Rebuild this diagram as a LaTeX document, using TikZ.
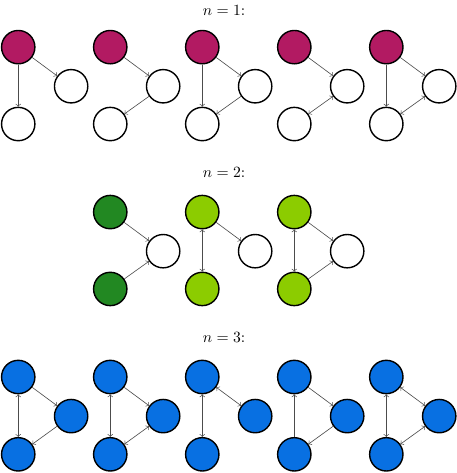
\documentclass[tikz,border=0pt]{standalone}
\usepackage{amsmath}
\usepackage{amssymb}
\usepackage{tikz}
\usetikzlibrary{arrows}

\definecolor{berry}{RGB}{178,26,98}
\definecolor{darkleaf}{RGB}{34,136,34}
\definecolor{lightleaf}{RGB}{140,204,0}
\definecolor{skyblue}{RGB}{8,112,226}

\begin{document}
\begin{tikzpicture}
		\tikzset{vertex/.style={shape = circle, draw, line width = 0.9pt, inner sep = 0pt, minimum size = 0.75cm}}
		\tikzset{edge/.style={->, draw = black!70, line width = 0.4pt}}
		\tikzset{both/.style={<->, draw = black!70, line width = 0.4pt}}
		\useasboundingbox (0, 0) rectangle (10.28, -10.64);
					%titles
					\node (n1) at (5.04, -0.23) {$n = 1$:};
					\node (n2) at (5.04, -3.89) {$n = 2$:};
					\node (n3) at (5.04, -7.60) {$n = 3$:};
					%vertices, n = 1
					\foreach \i in {0,...,4}{
						\node[vertex, fill = berry] (t1\i) at (0.41+2.07*\i, -1.06) {};
						\node[vertex] (r1\i) at (1.6+2.07*\i, -1.94) {};
						\node[vertex] (b1\i) at (0.41+2.07*\i, -2.79) {};
					}
					%vertices, n = 2
					\foreach \i/\c in {1/darkleaf, 2/lightleaf, 3/lightleaf}{
						\node[vertex, fill = \c] (t2\i) at (0.41+2.07*\i, -4.77) {};
						\node[vertex] (r2\i) at (1.6+2.07*\i, -5.65) {};
						\node[vertex, fill = \c] (b2\i) at (0.41+2.07*\i, -6.50) {};
					}
					%vertices, n = 3
					\foreach \i in {0,...,4}{
						\node[vertex, fill = skyblue] (t3\i) at (0.41+2.07*\i, -8.48) {};
						\node[vertex, fill = skyblue] (r3\i) at (1.6+2.07*\i, -9.36) {};
						\node[vertex, fill = skyblue] (b3\i) at (0.41+2.07*\i, -10.22) {};
					}
					%edges, n = 1
					\draw[edge] (t10) -- (b10);
					\draw[edge] (t10) -- (r10);
					\draw[edge] (t11) -- (r11);
					\draw[edge] (r11) -- (b11);
					\draw[edge] (t12) -- (r12);
					\draw[edge] (r12) -- (b12);
					\draw[edge] (t12) -- (b12);
					\draw[edge] (t13) -- (r13);
					\draw[both] (r13) -- (b13);
					\draw[edge] (t14) -- (r14);
					\draw[edge] (t14) -- (b14);
					\draw[both] (r14) -- (b14);
					%edges, n = 2
					\draw[edge] (t21) -- (r21);
					\draw[edge] (b21) -- (r21);
					\draw[both] (t22) -- (b22);
					\draw[edge] (t22) -- (r22);
					\draw[both] (t23) -- (b23);
					\draw[edge] (t23) -- (r23);
					\draw[edge] (b23) -- (r23);
					%edges, n = 3
					\draw[both] (t30) -- (b30);
					\draw[edge] (t30) -- (r30);
					\draw[edge] (r30) -- (b30);
					\draw[both] (t31) -- (b31);
					\draw[edge] (t31) -- (r31);
					\draw[both] (r31) -- (b31);
					\draw[both] (t32) -- (b32);
					\draw[both] (t32) -- (r32);
					\draw[edge] (b33) -- (t33);
					\draw[edge] (t33) -- (r33);
					\draw[edge] (r33) -- (b33);
					\draw[both] (t34) -- (b34);
					\draw[both] (t34) -- (r34);
					\draw[both] (r34) -- (b34);
					
					\end{tikzpicture}
\end{document}
